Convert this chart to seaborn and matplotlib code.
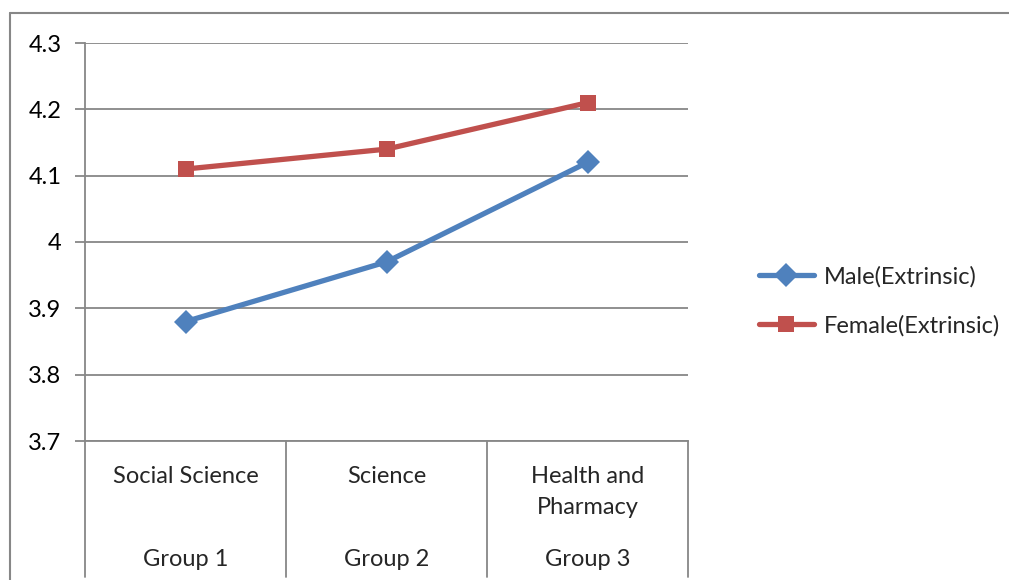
"""
Line chart: extrinsic motivation by group, male vs female.
"""

import pandas as pd
import matplotlib.pyplot as plt
from matplotlib.lines import Line2D
import seaborn as sns

# data
groups = ['Group 1', 'Group 2', 'Group 3']
fields = ['Social Science', 'Science', 'Health and\nPharmacy']
male = [3.88, 3.97, 4.12]
female = [4.11, 4.14, 4.21]
series_names = ['Male(Extrinsic)', 'Female(Extrinsic)']
y_ticks = [3.7, 3.8, 3.9, 4.0, 4.1, 4.2, 4.3]
y_tick_labels = ['3.7', '3.8', '3.9', '4', '4.1', '4.2', '4.3']

blue = '#4F81BD'
red = '#C0504D'
grid_col = '#878787'
fs = 17

sns.set_style('white')
plt.rcParams['font.family'] = ['Lato', 'DejaVu Sans']

df = pd.DataFrame({
    'pos': list(range(len(groups))) * 2,
    'value': male + female,
    'series': [series_names[0]] * len(groups) + [series_names[1]] * len(groups),
})

fig = plt.figure(figsize=(10.09, 5.80), dpi=100)
ax = fig.add_axes([85 / 1009, 1 - 441 / 580, (688 - 85) / 1009, (441 - 43) / 580])

sns.lineplot(data=df, x='pos', y='value', hue='series', style='series',
             palette={series_names[0]: blue, series_names[1]: red},
             markers={series_names[0]: 'D', series_names[1]: 's'},
             dashes=False, linewidth=3.8, markersize=12, markeredgewidth=0,
             ax=ax, legend=False, zorder=3)

ax.set_xlim(-0.5, len(groups) - 0.5)
ax.set_ylim(y_ticks[0], y_ticks[-1])
ax.set_yticks(y_ticks)
ax.set_yticklabels(y_tick_labels)
ax.set_xticks([])
ax.set_xlabel('')
ax.set_ylabel('')
ax.yaxis.grid(True, color=grid_col, linewidth=1.3)
ax.tick_params(axis='y', left=True, length=7, width=1.3, color=grid_col,
               pad=10, labelsize=fs, labelcolor='black')

for side in ['top', 'right']:
    ax.spines[side].set_visible(False)
for side in ['left', 'bottom']:
    ax.spines[side].set_color(grid_col)
    ax.spines[side].set_linewidth(1.3)

# category separators running down under the axis
trans = ax.get_xaxis_transform()
h = 441 - 43
low = -(577 - 441) / h
for b in [i - 0.5 for i in range(len(groups) + 1)]:
    ax.plot([b, b], [0, low], transform=trans, color=grid_col, lw=1.3, clip_on=False)

for i, (f, g) in enumerate(zip(fields, groups)):
    ax.text(i, -(466 - 441) / h, f, transform=trans, ha='center', va='top',
            fontsize=fs, linespacing=1.6)
    ax.text(i, -(559 - 441) / h, g, transform=trans, ha='center', va='center', fontsize=fs)

# legend
handles = [Line2D([], [], color=blue, lw=3.8, marker='D', markersize=12, markeredgewidth=0),
           Line2D([], [], color=red, lw=3.8, marker='s', markersize=12, markeredgewidth=0)]
fig.legend(handles, series_names, loc='center left', bbox_to_anchor=(738 / 1009, 1 - 301 / 580),
           frameon=False, fontsize=fs, handlelength=2.3, handletextpad=0.45, labelspacing=1.15)

# outer chart frame
fig.add_artist(Line2D([10 / 1009, 1], [1 - 13 / 580, 1 - 13 / 580], color=grid_col, lw=1.5))
fig.add_artist(Line2D([10 / 1009, 10 / 1009], [1 - 13 / 580, 0], color=grid_col, lw=1.5))

fig.savefig('out.png', dpi=100)
